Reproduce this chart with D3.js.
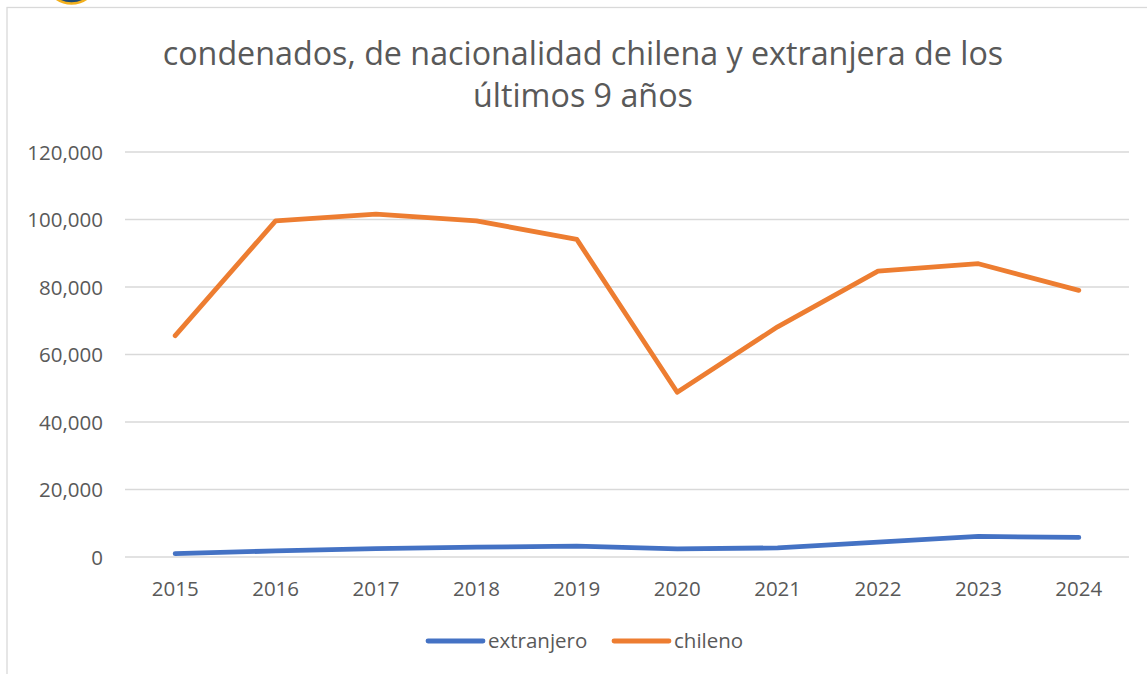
<!DOCTYPE html>
<html><head><meta charset="utf-8">
<script src="https://cdn.jsdelivr.net/npm/d3@7"></script>
<style>
html,body{margin:0;padding:0;background:#fff;}
svg{display:block;}
text{font-family:"Open Sans","Noto Sans",sans-serif;fill:#595959;}
</style></head>
<body>
<script>
const years = ["2015","2016","2017","2018","2019","2020","2021","2022","2023","2024"];
const extranjero = [1000, 1800, 2500, 2900, 3200, 2400, 2700, 4400, 6100, 5800];
const chileno = [65600, 99600, 101600, 99600, 94100, 48800, 68200, 84700, 86900, 79000];
const yTicks = [0, 20000, 40000, 60000, 80000, 100000, 120000];
const titleLines = ["condenados, de nacionalidad chilena y extranjera de los", "últimos 9 años"];
const seriesNames = ["extranjero", "chileno"];
const colors = ["#4472C4", "#ED7D31"];

const W = 1147, H = 674;
const svg = d3.select("body").append("svg").attr("width", W).attr("height", H);

// logo fragment at top
svg.append("ellipse").attr("cx", 71.5).attr("cy", -22).attr("rx", 26).attr("ry", 25.5)
  .attr("fill", "#1d4a72").attr("stroke", "#f2b01e").attr("stroke-width", 2.5);

// chart border
svg.append("rect").attr("x", 7).attr("y", 7.5).attr("width", W + 10).attr("height", H + 10)
  .attr("fill", "none").attr("stroke", "#d9d9d9").attr("stroke-width", 1.3);

const x = d3.scaleBand().domain(years).range([125, 1129]);
const y = d3.scaleLinear().domain([0, 120000]).range([557, 152]);

// gridlines
svg.append("g").selectAll("line").data(yTicks).join("line")
  .attr("x1", 125).attr("x2", 1129)
  .attr("y1", d => y(d)).attr("y2", d => y(d))
  .attr("stroke", "#d9d9d9").attr("stroke-width", 1.3);

// y axis
const yAxis = d3.axisLeft(y).tickValues(yTicks).tickSize(0).tickPadding(0)
  .tickFormat(d3.format(","));
const gy = svg.append("g").attr("transform", "translate(103,0)").call(yAxis);
gy.select(".domain").remove();
gy.selectAll("text").attr("font-size", "20.5px").attr("fill", "#595959")
  .style("font-family", '"Open Sans","Noto Sans",sans-serif').attr("dy", "0.35em").attr("x", 0);

// x axis
const xAxis = d3.axisBottom(x).tickSize(0).tickPadding(0);
const gx = svg.append("g").attr("transform", "translate(0,557)").call(xAxis);
gx.select(".domain").remove();
gx.selectAll("text").attr("font-size", "20.5px").attr("fill", "#595959")
  .style("font-family", '"Open Sans","Noto Sans",sans-serif').attr("y", 39).attr("dy", 0);

// lines
const line = d3.line().x((d, i) => x(years[i]) + x.bandwidth() / 2).y(d => y(d));
[extranjero, chileno].forEach((s, i) => {
  svg.append("path").datum(s).attr("d", line).attr("fill", "none")
    .attr("stroke", colors[i]).attr("stroke-width", 4.8)
    .attr("stroke-linecap", "round").attr("stroke-linejoin", "round");
});

// title
const t = svg.append("text").attr("text-anchor", "middle").attr("font-size", "29px").attr("fill", "#595959");
titleLines.forEach((l, i) => {
  t.append("tspan").attr("x", 583).attr("y", 65 + i * 42).text(l);
});
// fit first line to target width
const first = t.select("tspan").node();
const w = first.getComputedTextLength();
const fs = 29 * 841 / w;
t.attr("font-size", fs + "px");

// legend
const legX = [428, 614];
seriesNames.forEach((n, i) => {
  svg.append("line").attr("x1", legX[i]).attr("x2", legX[i] + 55).attr("y1", 641).attr("y2", 641)
    .attr("stroke", colors[i]).attr("stroke-width", 4.8).attr("stroke-linecap", "round");
  svg.append("text").attr("x", legX[i] + 60).attr("y", 641).attr("dy", "0.35em")
    .attr("font-size", "20.5px").text(n);
});
</script>
</body></html>
